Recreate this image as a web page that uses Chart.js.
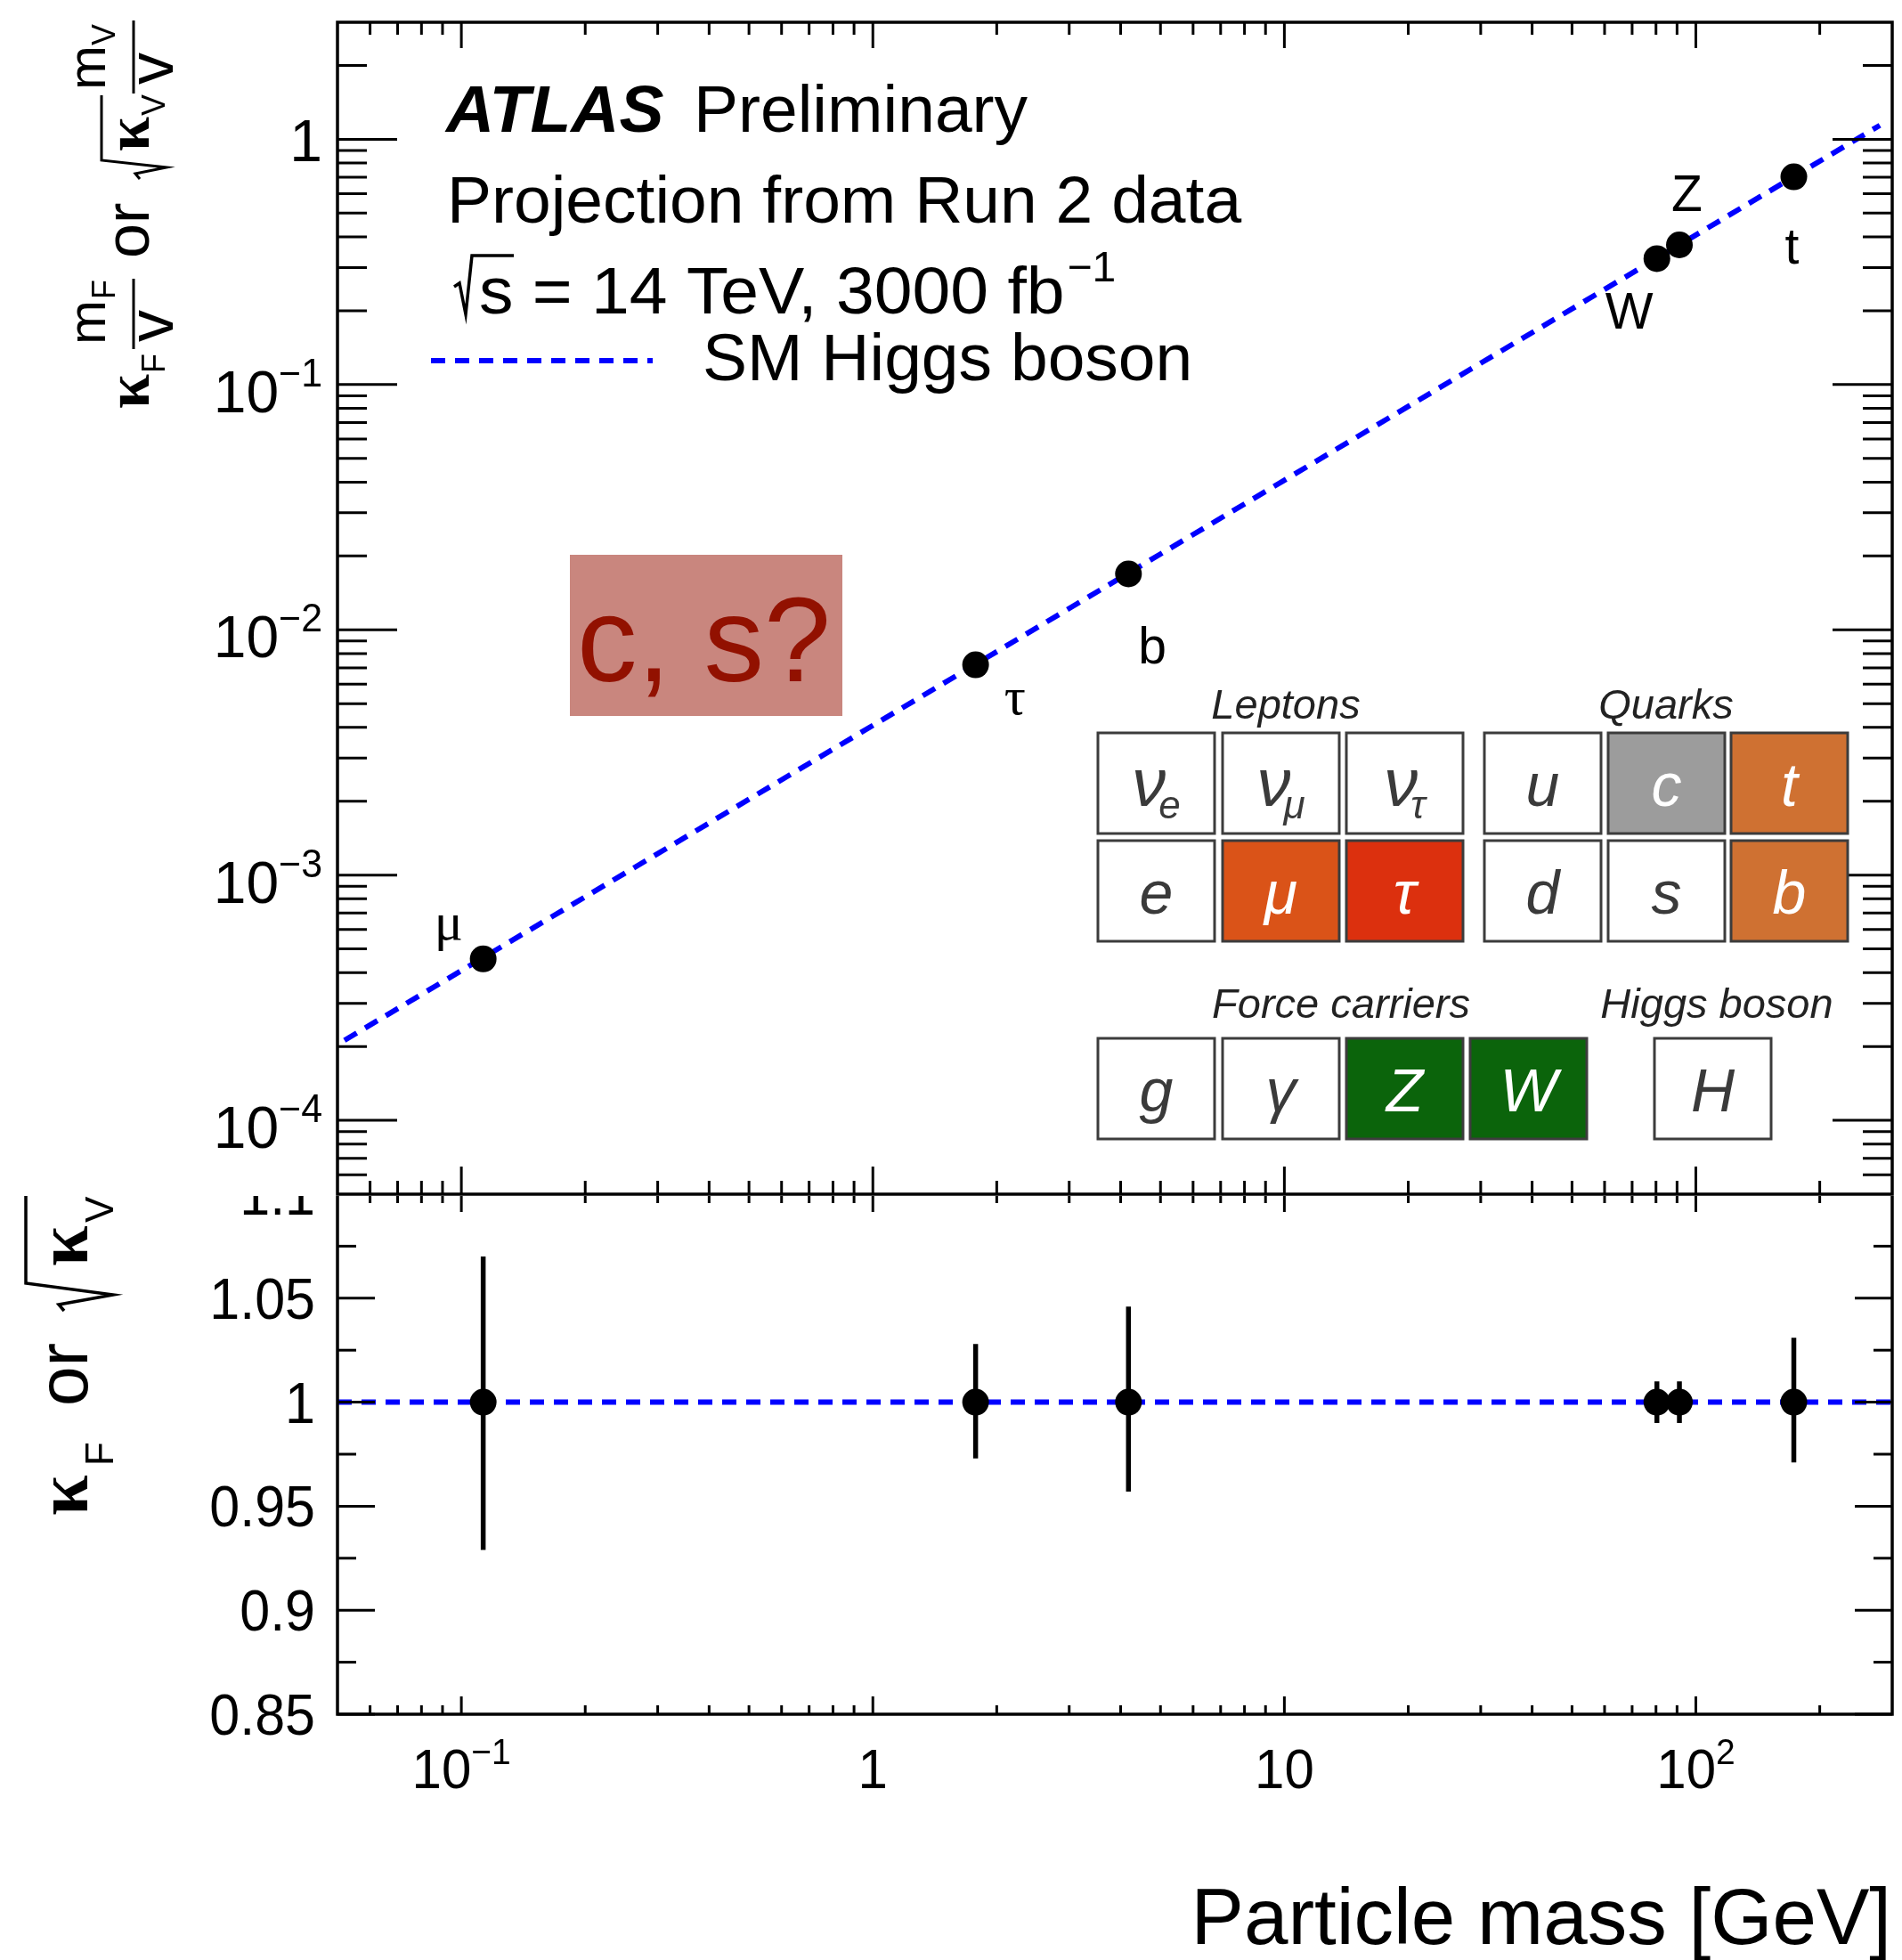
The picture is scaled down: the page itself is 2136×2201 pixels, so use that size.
<!DOCTYPE html>
<html lang="en">
  <head>
    <meta charset="UTF-8" />
    <title>Higgs couplings vs particle mass</title>
    <style>
      html,
      body {
        margin: 0;
        padding: 0;
        background: #fff;
      }
      body {
        position: relative;
        width: 2136px;
        height: 2201px;
        overflow: hidden;
      }
      canvas {
        position: absolute;
        left: 0;
        top: 0;
      }
      #couplingChart {
        background: #fff;
      }
    </style>
    <script src="https://cdn.jsdelivr.net/npm/chart.js@4.4.1/dist/chart.umd.min.js"></script>
  </head>
  <body>
    <canvas id="ratioChart" width="2136" height="2201"></canvas>
    <canvas id="couplingChart" width="2136" height="1343"></canvas>

    <script>
      const particles = ["μ", "τ", "b", "W", "Z", "t"];
      const massGeV = [0.113, 1.777, 4.18, 80.4, 91.2, 173];
      const scaledCoupling = [4.55e-4, 7.2e-3, 1.69e-2, 0.326, 0.371, 0.703];
      const ratio = [1, 1, 1, 1, 1, 1];
      const ratioErrUp = [0.07, 0.028, 0.046, 0.01, 0.01, 0.031];
      const ratioErrDown = [0.071, 0.027, 0.043, 0.01, 0.01, 0.029];

      // SM expectation lines
      const smMass = [0.052, 280];
      const smCoupling = [2.12e-4, 1.14];
      const refMass = [0.05, 300];
      const refRatio = [1, 1];

      // ticks
      const xTickValues = [0.1, 1, 10, 100];
      const xTickLabels = ["10^\u22121", "1", "10", "10^2"];
      const yTopTickValues = [1e-4, 1e-3, 1e-2, 1e-1, 1];
      const yTopTickLabels = ["10^\u22124", "10^\u22123", "10^\u22122", "10^\u22121", "1"];
      const yRatioTickValues = [0.85, 0.9, 0.95, 1, 1.05, 1.1];
      const yRatioTickLabels = ["0.85", "0.9", "0.95", "1", "1.05", "1.1"];
      const yRatioMinor = [0.875, 0.925, 0.975, 1.025, 1.075];

      const SANS = '"Liberation Sans", Arial, Helvetica, sans-serif';
      const SERIF = '"Liberation Serif", "Times New Roman", serif';
      const BLUE = "#0000ff";
      const DASH = [16, 11];

      // label offsets (px) from each marker: left x / baseline
      const labelOffsets = [
        [-55, -22],
        [32, 55],
        [11, 101],
        [-58, 79],
        [-9, -38],
        [-10, 97],
      ];

      function logMinor(min, max) {
        const out = [];
        for (let d = Math.floor(Math.log10(min)); d <= Math.ceil(Math.log10(max)); d++) {
          for (let k = 2; k <= 9; k++) {
            const v = k * Math.pow(10, d);
            if (v > min * 1.0001 && v < max * 0.9999) out.push(v);
          }
        }
        return out;
      }

      function seg(ctx, x1, y1, x2, y2) {
        ctx.beginPath();
        ctx.moveTo(x1, y1);
        ctx.lineTo(x2, y2);
        ctx.stroke();
      }

      function drawFrame(chart, o) {
        const { ctx, chartArea: a } = chart;
        const xs = chart.scales.x;
        const ys = chart.scales.y;
        ctx.save();
        ctx.strokeStyle = "#000";
        ctx.lineWidth = 3;
        o.xMajor.forEach((v) => {
          const px = xs.getPixelForValue(v);
          seg(ctx, px, a.top, px, a.top + o.xTop[0]);
          seg(ctx, px, a.bottom, px, a.bottom - o.xBottom[0]);
        });
        o.xMinor.forEach((v) => {
          const px = xs.getPixelForValue(v);
          seg(ctx, px, a.top, px, a.top + o.xTop[1]);
          seg(ctx, px, a.bottom, px, a.bottom - o.xBottom[1]);
        });
        o.yMajor.forEach((v) => {
          const py = ys.getPixelForValue(v);
          seg(ctx, a.left, py, a.left + o.yLen[0], py);
          seg(ctx, a.right, py, a.right - o.yLen[0], py);
        });
        o.yMinor.forEach((v) => {
          const py = ys.getPixelForValue(v);
          seg(ctx, a.left, py, a.left + o.yLen[1], py);
          seg(ctx, a.right, py, a.right - o.yLen[1], py);
        });
        ctx.lineWidth = 3.5;
        ctx.strokeRect(a.left, a.top, a.right - a.left, a.bottom - a.top);
        ctx.restore();
      }

      // label like "10^-2" with a raised exponent
      function tickLabel(ctx, label, x, y, align, size, sy) {
        const parts = label.split("^");
        const base = parts[0];
        const exp = parts[1];
        const es = size * 0.65;
        ctx.font = size + "px " + SANS;
        const wb = ctx.measureText(base).width;
        let we = 0;
        if (exp) {
          ctx.font = es + "px " + SANS;
          we = ctx.measureText(exp).width;
        }
        const w = wb + we;
        const x0 = align === "right" ? x - w : align === "center" ? x - w / 2 : x;
        ctx.save();
        ctx.translate(x0, y);
        ctx.scale(1, sy);
        ctx.textAlign = "left";
        ctx.textBaseline = "alphabetic";
        ctx.fillStyle = "#000";
        ctx.font = size + "px " + SANS;
        ctx.fillText(base, 0, 0);
        if (exp) {
          ctx.font = es + "px " + SANS;
          ctx.fillText(exp, wb, -size * 0.43);
        }
        ctx.restore();
      }

      function txt(ctx, s, x, y, font, align) {
        ctx.font = font;
        ctx.textAlign = align || "left";
        ctx.textBaseline = "alphabetic";
        ctx.fillText(s, x, y);
        return ctx.measureText(s).width;
      }

      function radical(ctx, pts, w) {
        ctx.save();
        ctx.lineWidth = w;
        ctx.lineJoin = "miter";
        ctx.beginPath();
        ctx.moveTo(pts[0][0], pts[0][1]);
        for (let i = 1; i < pts.length; i++) ctx.lineTo(pts[i][0], pts[i][1]);
        ctx.stroke();
        ctx.restore();
      }

      function drawTable(ctx) {
        const dark = "#3a3a3a";
        const cells = [
          { x: 1233, y: 823, t: "ν", sub: "e" },
          { x: 1373, y: 823, t: "ν", sub: "μ" },
          { x: 1512, y: 823, t: "ν", sub: "τ" },
          { x: 1667, y: 823, t: "u" },
          { x: 1806, y: 823, t: "c", fill: "#9c9c9c" },
          { x: 1944, y: 823, t: "t", fill: "#cf7132" },
          { x: 1233, y: 944, t: "e" },
          { x: 1373, y: 944, t: "μ", fill: "#da5318" },
          { x: 1512, y: 944, t: "τ", fill: "#dc300e" },
          { x: 1667, y: 944, t: "d" },
          { x: 1806, y: 944, t: "s" },
          { x: 1944, y: 944, t: "b", fill: "#cf7132" },
          { x: 1233, y: 1166, t: "g" },
          { x: 1373, y: 1166, t: "γ" },
          { x: 1512, y: 1166, t: "Z", fill: "#0b640b" },
          { x: 1651, y: 1166, t: "W", fill: "#0b640b" },
          { x: 1858, y: 1166, t: "H" },
        ];
        const w = 131;
        const h = 113;
        ctx.save();
        cells.forEach((c) => {
          ctx.fillStyle = c.fill || "#ffffff";
          ctx.fillRect(c.x, c.y, w, h);
          ctx.strokeStyle = "#3c3c3c";
          ctx.lineWidth = 3;
          ctx.strokeRect(c.x, c.y, w, h);
          ctx.fillStyle = c.fill ? "#ffffff" : dark;
          const big = c.t === "ν" ? 76 : 68;
          const mf = "italic " + big + "px " + SANS;
          const sf = "italic 44px " + SANS;
          ctx.font = mf;
          const wm = ctx.measureText(c.t).width;
          let ws = 0;
          if (c.sub) {
            ctx.font = sf;
            ws = ctx.measureText(c.sub).width - 8;
          }
          const x0 = c.x + w / 2 - (wm + ws) / 2;
          txt(ctx, c.t, x0, c.y + 82, mf);
          if (c.sub) txt(ctx, c.sub, x0 + wm - 8, c.y + 96, sf);
        });
        ctx.fillStyle = "#222";
        const hf = "italic 47px " + SANS;
        txt(ctx, "Leptons", 1444, 807, hf, "center");
        txt(ctx, "Quarks", 1871, 807, hf, "center");
        txt(ctx, "Force carriers", 1506, 1143, hf, "center");
        txt(ctx, "Higgs boson", 1928, 1143, hf, "center");
        ctx.restore();
      }

      const couplingPanel = {
        id: "couplingPanel",
        afterDatasetsDraw(chart) {
          const ctx = chart.ctx;
          const meta = chart.getDatasetMeta(1);
          ctx.save();
          ctx.fillStyle = "#000";
          particles.forEach((p, i) => {
            const pt = meta.data[i];
            const greek = p === "μ" || p === "τ";
            const font = greek ? "60px " + SERIF : "57px " + SANS;
            txt(ctx, p, pt.x + labelOffsets[i][0], pt.y + labelOffsets[i][1], font);
          });
          ctx.restore();
        },
        afterDraw(chart) {
          const ctx = chart.ctx;
          const ys = chart.scales.y;
          drawFrame(chart, {
            xMajor: xTickValues,
            xMinor: logMinor(0.05, 300),
            yMajor: yTopTickValues,
            yMinor: logMinor(5e-5, 3),
            xTop: [29, 14],
            xBottom: [31, 15],
            yLen: [67, 33],
          });

          // y tick labels
          yTopTickValues.forEach((v, i) => {
            const py = ys.getPixelForValue(v);
            const lab = yTopTickLabels[i];
            const off = lab.indexOf("^") >= 0 ? 31 : 25;
            tickLabel(ctx, lab, 362, py + off, "right", 66, 1.02);
          });

          ctx.save();
          ctx.fillStyle = "#000";
          ctx.strokeStyle = "#000";

          // header text
          txt(ctx, "ATLAS", 501, 148, "italic bold 75px " + SANS);
          txt(ctx, "Preliminary", 779, 148, "75px " + SANS);
          txt(ctx, "Projection from Run 2 data", 502, 250, "75px " + SANS);
          radical(ctx, [[510, 322], [516, 318], [523, 353], [530, 287], [577, 287]], 3.5);
          ctx.save();
          ctx.translate(538, 352);
          ctx.scale(1.025, 1);
          const lw = txt(ctx, "s = 14 TeV, 3000 fb", 0, 0, "75px " + SANS);
          ctx.restore();
          txt(ctx, "\u22121", 538 + lw * 1.025 + 3, 316, "48px " + SANS);

          // legend
          ctx.save();
          ctx.strokeStyle = BLUE;
          ctx.lineWidth = 6;
          ctx.setLineDash(DASH);
          seg(ctx, 484, 405, 733, 405);
          ctx.restore();
          txt(ctx, "SM Higgs boson", 789, 427, "75px " + SANS);

          // c, s? box
          ctx.fillStyle = "#c9867e";
          ctx.fillRect(640, 623, 306, 181);
          ctx.fillStyle = "#921100";
          txt(ctx, "c, s?", 648, 765, "135px " + SANS);

          drawTable(ctx);

          // y-axis title (rotated)
          ctx.fillStyle = "#000";
          ctx.translate(167, 463);
          ctx.rotate(-Math.PI / 2);
          txt(ctx, "κ", 4, 0, "bold 70px " + SERIF);
          txt(ctx, "F", 44, 18, "36px " + SANS);
          ctx.lineWidth = 3;
          seg(ctx, 71, -17, 150, -17);
          txt(ctx, "m", 76, -49, "60px " + SANS);
          txt(ctx, "F", 127, -38, "36px " + SANS);
          txt(ctx, "v", 97, 27, "72px " + SANS, "center");
          txt(ctx, "or", 173, 0, "70px " + SANS);
          radical(ctx, [[262, -10], [268, -15], [275, 20], [283, -53], [356, -53]], 3);
          txt(ctx, "κ", 293, 0, "bold 70px " + SERIF);
          txt(ctx, "V", 333, 18, "36px " + SANS);
          seg(ctx, 358, -17, 440, -17);
          txt(ctx, "m", 362, -49, "60px " + SANS);
          txt(ctx, "V", 412, -38, "36px " + SANS);
          txt(ctx, "v", 386, 27, "72px " + SANS, "center");
          ctx.restore();
        },
      };

      const ratioPanel = {
        id: "ratioPanel",
        afterDatasetsDraw(chart) {
          const ctx = chart.ctx;
          const xs = chart.scales.x;
          const ys = chart.scales.y;
          ctx.save();
          ctx.strokeStyle = "#000";
          ctx.lineWidth = 5.5;
          massGeV.forEach((m, i) => {
            const px = xs.getPixelForValue(m);
            seg(ctx, px, ys.getPixelForValue(ratio[i] + ratioErrUp[i]), px, ys.getPixelForValue(ratio[i] - ratioErrDown[i]));
          });
          ctx.restore();
        },
        afterDraw(chart) {
          const ctx = chart.ctx;
          const xs = chart.scales.x;
          const ys = chart.scales.y;
          const a = chart.chartArea;
          drawFrame(chart, {
            xMajor: xTickValues,
            xMinor: logMinor(0.05, 300),
            yMajor: yRatioTickValues,
            yMinor: yRatioMinor,
            xTop: [20, 10],
            xBottom: [20, 10],
            yLen: [42, 21],
          });
          yRatioTickValues.forEach((v, i) => {
            tickLabel(ctx, yRatioTickLabels[i], 354, ys.getPixelForValue(v) + 23, "right", 61, 1.05);
          });
          xTickValues.forEach((v, i) => {
            tickLabel(ctx, xTickLabels[i], xs.getPixelForValue(v), a.bottom + 83, "center", 60, 1.05);
          });

          ctx.save();
          ctx.fillStyle = "#000";
          ctx.strokeStyle = "#000";
          txt(ctx, "Particle mass [GeV]", 2124, 2183, "89px " + SANS, "right");

          ctx.translate(98, 1702);
          ctx.rotate(-Math.PI / 2);
          txt(ctx, "κ", 0, 0, "bold 82px " + SERIF);
          txt(ctx, "F", 56, 29, "44px " + SANS);
          txt(ctx, "or", 123, 0, "80px " + SANS);
          radical(ctx, [[230, -26], [237, -32], [248, 29], [261, -69], [372, -69]], 3.5);
          txt(ctx, "κ", 280, 0, "bold 82px " + SERIF);
          txt(ctx, "V", 329, 29, "44px " + SANS);
          ctx.restore();
        },
      };

      function lineDataset(xv, yv) {
        return {
          data: xv.map((x, i) => ({ x: x, y: yv[i] })),
          showLine: true,
          borderColor: BLUE,
          borderWidth: 6,
          borderDash: DASH,
          pointRadius: 0,
          order: 2,
        };
      }

      function pointDataset(xv, yv) {
        return {
          data: xv.map((x, i) => ({ x: x, y: yv[i] })),
          pointRadius: 15,
          pointBackgroundColor: "#000",
          pointBorderWidth: 0,
          showLine: false,
          order: 1,
        };
      }

      const commonOptions = (pad, yScale) => ({
        responsive: false,
        animation: false,
        devicePixelRatio: 1,
        layout: { padding: pad, autoPadding: false },
        scales: {
          x: { type: "logarithmic", min: 0.05, max: 300, display: false },
          y: yScale,
        },
        plugins: { legend: { display: false }, tooltip: { enabled: false } },
      });

      new Chart(document.getElementById("ratioChart"), {
        type: "scatter",
        data: { datasets: [lineDataset(refMass, refRatio), pointDataset(massGeV, ratio)] },
        options: commonOptions(
          { left: 379, right: 11, top: 1341, bottom: 276 },
          { type: "linear", min: 0.85, max: 1.1, display: false }
        ),
        plugins: [ratioPanel],
      });

      new Chart(document.getElementById("couplingChart"), {
        type: "scatter",
        data: { datasets: [lineDataset(smMass, smCoupling), pointDataset(massGeV, scaledCoupling)] },
        options: commonOptions(
          { left: 379, right: 11, top: 25, bottom: 2 },
          { type: "logarithmic", min: 5e-5, max: 3, display: false }
        ),
        plugins: [couplingPanel],
      });
    </script>
  </body>
</html>
